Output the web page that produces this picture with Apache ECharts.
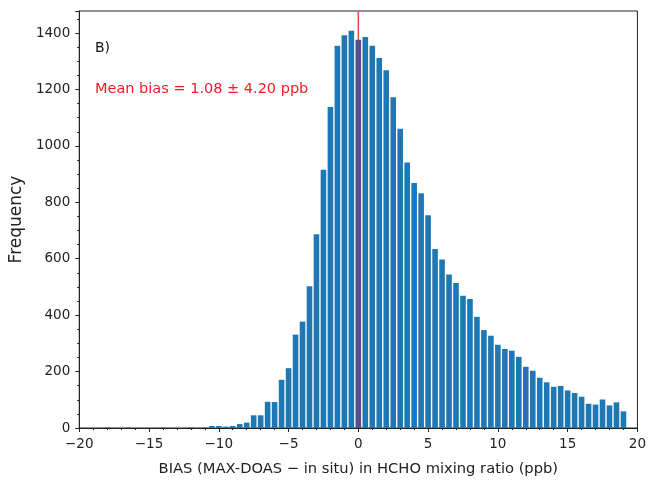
<!DOCTYPE html>
<html>
<head>
<meta charset="utf-8">
<script src="https://cdn.jsdelivr.net/npm/echarts@6/dist/echarts.min.js"></script>
<style>
  html, body { margin: 0; padding: 0; background: #fff; }
  #chart { width: 649px; height: 482px; }
</style>
</head>
<body>
<div id="chart"></div>
<script>
// Histogram bin centres (ppb), bin width 0.5
const binCenters = [
  -18, -17.5, -17, -16.5, -16, -15.5, -15, -14.5, -14, -13.5,
  -13, -12.5, -12, -11.5, -11, -10.5, -10, -9.5, -9, -8.5,
  -8, -7.5, -7, -6.5, -6, -5.5, -5, -4.5, -4, -3.5,
  -3, -2.5, -2, -1.5, -1, -0.5, 0, 0.5, 1, 1.5,
  2, 2.5, 3, 3.5, 4, 4.5, 5, 5.5, 6, 6.5,
  7, 7.5, 8, 8.5, 9, 9.5, 10, 10.5, 11, 11.5,
  12, 12.5, 13, 13.5, 14, 14.5, 15, 15.5, 16, 16.5,
  17, 17.5, 18, 18.5, 19
];
// Counts per bin
const binCounts = [
  2, 0, 0, 1, 0, 0, 0, 0, 1, 0,
  0, 0, 2, 0, 1, 7, 7, 5, 7, 14,
  19, 45, 45, 93, 92, 171, 212, 331, 377, 502,
  687, 915, 1138, 1355, 1392, 1408, 1376, 1386, 1355, 1311,
  1268, 1172, 1061, 941, 868, 832, 754, 634, 597, 544,
  514, 469, 457, 394, 347, 327, 295, 280, 274, 252,
  217, 203, 178, 162, 146, 149, 133, 124, 111, 86,
  83, 101, 80, 91, 59
];
const meanBias = 1.08;
const stdBias = 4.20;
const meanLineX = 0;
const xTicks = [-20, -15, -10, -5, 0, 5, 10, 15, 20];
const yTicks = [0, 200, 400, 600, 800, 1000, 1200, 1400];
const yMax = 1478;

const FONT = 'DejaVu Sans';
const BLUE = '#1f77b4';
const HIGHLIGHT = '#56508a';

const barData = binCenters.map((c, i) => {
  const item = { value: [c, binCounts[i]] };
  if (c === meanLineX) item.itemStyle = { color: HIGHLIGHT };
  return item;
});

const chart = echarts.init(document.getElementById('chart'), null, { renderer: 'canvas' });
chart.setOption({
  animation: false,
  backgroundColor: '#fff',
  grid: {
    left: 78, right: 11, top: 11, bottom: 48,
    show: true, borderColor: '#222', borderWidth: 1, backgroundColor: 'transparent'
  },
  xAxis: {
    type: 'value',
    min: xTicks[0], max: xTicks[xTicks.length - 1], interval: 5,
    name: 'BIAS (MAX-DOAS \u2212 in situ) in HCHO mixing ratio (ppb)',
    nameLocation: 'middle', nameGap: 34,
    nameTextStyle: { fontFamily: FONT, fontSize: 14.7, color: '#222' },
    axisLine: { onZero: false, lineStyle: { color: '#222', width: 1 } },
    axisTick: { length: 4, lineStyle: { color: '#222' } },
    minorTick: { show: true, splitNumber: 5, length: 2, lineStyle: { color: '#222' } },
    axisLabel: {
      fontFamily: FONT, fontSize: 13.5, color: '#222', margin: 9,
      formatter: v => (v < 0 ? '\u2212' + Math.abs(v) : String(v))
    },
    splitLine: { show: false }
  },
  yAxis: {
    type: 'value',
    min: 0, max: yMax, interval: 200,
    name: 'Frequency',
    nameLocation: 'middle', nameGap: 52,
    nameTextStyle: { fontFamily: FONT, fontSize: 17, color: '#222' },
    axisLine: { show: true, onZero: false, lineStyle: { color: '#222', width: 1 } },
    axisTick: { length: 4, lineStyle: { color: '#222' } },
    minorTick: { show: true, splitNumber: 4, length: 2, lineStyle: { color: '#222' } },
    axisLabel: {
      fontFamily: FONT, fontSize: 13.5, color: '#222', margin: 9,
      showMaxLabel: false,
      formatter: v => (yTicks.indexOf(v) >= 0 ? String(v) : '')
    },
    splitLine: { show: false }
  },
  series: [
    {
      type: 'line',
      data: [[meanLineX, 0], [meanLineX, yMax]],
      symbol: 'none',
      lineStyle: { color: '#f0443f', width: 1.5 },
      z: 1,
      silent: true
    },
    {
      type: 'bar',
      data: barData,
      barWidth: 5.6,
      itemStyle: { color: BLUE },
      z: 2
    }
  ],
  graphic: [
    {
      type: 'text', left: 95, top: 41,
      style: { text: 'B)', font: '14px "DejaVu Sans"', fill: '#111' }
    },
    {
      type: 'text', left: 95, top: 82,
      style: {
        text: 'Mean bias = ' + meanBias.toFixed(2) + ' \u00b1 ' + stdBias.toFixed(2) + ' ppb',
        font: '14.5px "DejaVu Sans"', fill: '#ee1c25'
      }
    }
  ]
});
</script>
</body>
</html>
